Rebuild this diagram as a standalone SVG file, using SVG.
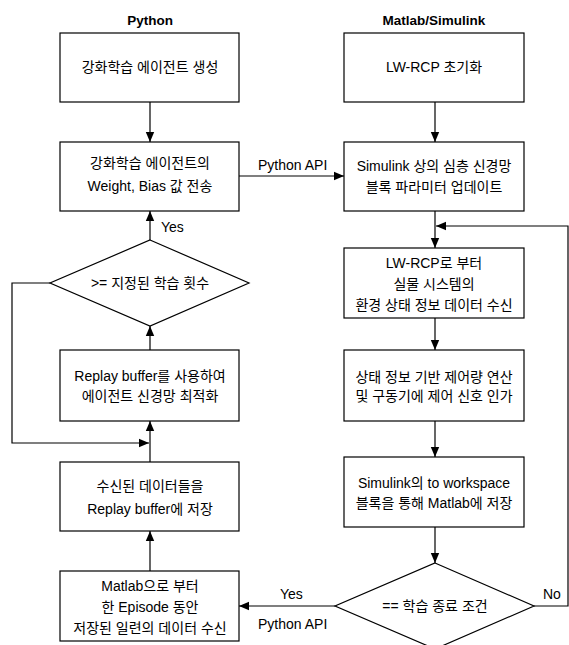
<svg xmlns="http://www.w3.org/2000/svg" width="569" height="645" viewBox="0 0 569 645">
<style>
.box{fill:#fff;stroke:#000;stroke-width:1.2}
.ln{fill:none;stroke:#000;stroke-width:1.2}
text{font-family:"Liberation Sans","Noto Sans CJK KR",Arial,sans-serif;font-size:14px;fill:#000}
.c{text-anchor:middle}
.t{font-weight:bold;font-size:13.5px}
</style>
<defs>
<marker id="ah" markerWidth="10" markerHeight="10" viewBox="0 0 10 10" refX="10" refY="5" orient="auto" markerUnits="userSpaceOnUse">
<path d="M0,0.8 L10,5 L0,9.2 Z" fill="#000"/>
</marker>
</defs>
<rect width="569" height="645" fill="#fff"/>
<text class="c t" x="150" y="25">Python</text>
<text class="c t" x="434" y="25">Matlab/Simulink</text>

<g id="connectors">
<path class="ln" d="M150,102 V142" marker-end="url(#ah)"/>
<path class="ln" d="M239,176 H344" marker-end="url(#ah)"/>
<path class="ln" d="M435,102 V142" marker-end="url(#ah)"/>
<path class="ln" d="M435,211 V248" marker-end="url(#ah)"/>
<path class="ln" d="M435,318 V350" marker-end="url(#ah)"/>
<path class="ln" d="M435,421 V457" marker-end="url(#ah)"/>
<path class="ln" d="M435,527 V563" marker-end="url(#ah)"/>
<path class="ln" d="M534,606 H568 V226 H436" marker-end="url(#ah)"/>
<path class="ln" d="M335,606 H239" marker-end="url(#ah)"/>
<path class="ln" d="M150,571 V531" marker-end="url(#ah)"/>
<path class="ln" d="M150,462 V421" marker-end="url(#ah)"/>
<path class="ln" d="M50,283 H12 V443 H149" marker-end="url(#ah)"/>
<path class="ln" d="M150,350 V326" marker-end="url(#ah)"/>
<path class="ln" d="M150,240 V211" marker-end="url(#ah)"/>
<text x="258" y="170">Python API</text>
<text x="161" y="232">Yes</text>
<text x="280" y="599">Yes</text>
<text x="258" y="629">Python API</text>
<text x="543" y="599">No</text>
</g>

<g id="n1"><rect class="box" x="60" y="33" width="179" height="69"/>
<text class="c" x="150" y="72">강화학습 에이전트 생성</text></g>
<g id="n2"><rect class="box" x="60" y="142" width="179" height="69"/>
<text class="c" x="150" y="168">강화학습 에이전트의</text>
<text class="c" x="150" y="191">Weight, Bias 값 전송</text></g>
<g id="d1"><polygon class="box" points="150,240 249,283 150,326 50,283"/>
<text class="c" x="150" y="288">&gt;= 지정된 학습 횟수</text></g>
<g id="n3"><rect class="box" x="60" y="350" width="179" height="71"/>
<text class="c" x="150" y="381">Replay buffer를 사용하여</text>
<text class="c" x="150" y="401">에이전트 신경망 최적화</text></g>
<g id="n4"><rect class="box" x="60" y="462" width="179" height="69"/>
<text class="c" x="150" y="491">수신된 데이터들을</text>
<text class="c" x="150" y="514">Replay buffer에 저장</text></g>
<g id="n5"><rect class="box" x="60" y="571" width="179" height="70"/>
<text class="c" x="150" y="591">Matlab으로 부터</text>
<text class="c" x="150" y="612">한 Episode 동안</text>
<text class="c" x="150" y="633">저장된 일련의 데이터 수신</text></g>

<g id="m1"><rect class="box" x="344" y="33" width="180" height="69"/>
<text class="c" x="434" y="72">LW-RCP 초기화</text></g>
<g id="m2"><rect class="box" x="344" y="142" width="180" height="69"/>
<text class="c" x="434" y="171">Simulink 상의 심층 신경망</text>
<text class="c" x="434" y="192">블록 파라미터 업데이트</text></g>
<g id="m3"><rect class="box" x="344" y="248" width="180" height="70"/>
<text class="c" x="434" y="268">LW-RCP로 부터</text>
<text class="c" x="434" y="289">실물 시스템의</text>
<text class="c" x="434" y="310">환경 상태 정보 데이터 수신</text></g>
<g id="m4"><rect class="box" x="344" y="350" width="180" height="71"/>
<text class="c" x="434" y="382">상태 정보 기반 제어량 연산</text>
<text class="c" x="434" y="401">및 구동기에 제어 신호 인가</text></g>
<g id="m5"><rect class="box" x="344" y="457" width="180" height="70"/>
<text class="c" x="434" y="488">Simulink의 to workspace</text>
<text class="c" x="434" y="508">블록을 통해 Matlab에 저장</text></g>
<g id="d2"><polygon class="box" points="435,563 534,606 435,649 335,606"/>
<text class="c" x="435" y="611">== 학습 종료 조건</text></g>
</svg>
